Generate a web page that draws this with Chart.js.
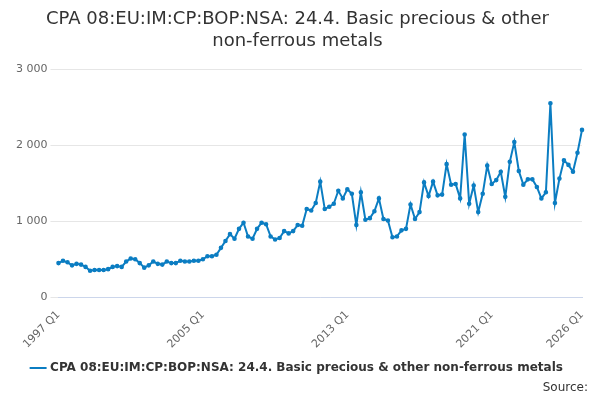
<!DOCTYPE html>
<html>
<head>
<meta charset="utf-8">
<script src="https://cdn.jsdelivr.net/npm/chart.js@4"></script>
<style>
  body { margin: 0; background: #fff; font-family: "DejaVu Sans", sans-serif; }
  #wrap { position: relative; width: 600px; height: 400px; }
  #src { position: absolute; right: 12px; bottom: 6px; font-size: 12px; color: #333; }
</style>
</head>
<body>
<div id="wrap">
  <canvas id="chart" width="600" height="400"></canvas>
  <div id="src">Source:</div>
</div>
<script>
// Series: quarterly values 1997 Q1 .. 2026 Q1
const values = [
  450, 480, 460, 420, 440, 430, 400, 350, 360, 360, 360, 370, 400, 410, 400, 470,
  510, 500, 450, 390, 420, 470, 440, 430, 470, 450, 450, 480, 470, 470, 480, 480,
  500, 540, 540, 560, 650, 740, 830, 770, 900, 980, 800, 770, 900, 980, 960, 800,
  760, 780, 870, 840, 870, 950, 940, 1160, 1140, 1240, 1520, 1160, 1190, 1230, 1400, 1300,
  1420, 1360, 950, 1380, 1020, 1040, 1130, 1300, 1030, 1010, 790, 800, 880, 900, 1220, 1030,
  1120, 1510, 1330, 1520, 1340, 1350, 1750, 1480, 1490, 1300, 2140, 1230, 1470, 1120, 1360, 1730,
  1490, 1540, 1650, 1320, 1780, 2040, 1660, 1480, 1550, 1550, 1450, 1300, 1380, 2550, 1240, 1560,
  1800, 1740, 1650, 1900, 2200
];
const seriesName = 'CPA 08:EU:IM:CP:BOP:NSA: 24.4. Basic precious & other non-ferrous metals';
const tickLabels = ['1997 Q1', '2005 Q1', '2013 Q1', '2021 Q1', '2026 Q1'];

const categories = [];
for (let y = 1997; categories.length < values.length; y++) {
  for (let q = 1; q <= 4 && categories.length < values.length; q++) {
    categories.push(y + ' Q' + q);
  }
}

const blue = '#0b7dc2';
new Chart(document.getElementById('chart'), {
  type: 'line',
  data: {
    labels: categories,
    datasets: [{
      label: seriesName,
      data: values,
      borderColor: blue,
      backgroundColor: blue,
      borderWidth: 2,
      pointRadius: 1.3,
      pointHoverRadius: 3,
      tension: 0
    }]
  },
  options: {
    responsive: false,
    animation: false,
    layout: { padding: { left: 13, right: 18, top: 0, bottom: 16 } },
    plugins: {
      title: {
        display: true,
        text: ['CPA 08:EU:IM:CP:BOP:NSA: 24.4. Basic precious & other', 'non-ferrous metals'],
        color: '#333',
        font: { size: 18, family: 'DejaVu Sans', weight: 'normal', lineHeight: 1.25 },
        padding: { top: 8, bottom: 16 }
      },
      legend: {
        position: 'bottom',
        labels: {
          color: '#333',
          font: { size: 12, family: 'DejaVu Sans', weight: 'bold' },
          usePointStyle: true,
          pointStyle: 'line',
          boxWidth: 20,
          padding: 8
        }
      }
    },
    scales: {
      x: {
        grid: { display: false },
        border: { color: '#ccd6eb' },
        ticks: {
          autoSkip: false,
          maxRotation: 45,
          minRotation: 45,
          color: '#666',
          font: { size: 11, family: 'DejaVu Sans' },
          callback: function (v) {
            const l = categories[v];
            return tickLabels.includes(l) ? l : '';
          }
        }
      },
      y: {
        min: 0,
        max: 3000,
        grid: { color: '#e6e6e6' },
        border: { display: false },
        ticks: {
          stepSize: 1000,
          color: '#666',
          font: { size: 11, family: 'DejaVu Sans' },
          callback: v => v === 0 ? '0' : String(v).replace(/\B(?=(\d{3})+(?!\d))/g, ' ')
        }
      }
    }
  }
});
</script>
</body>
</html>
